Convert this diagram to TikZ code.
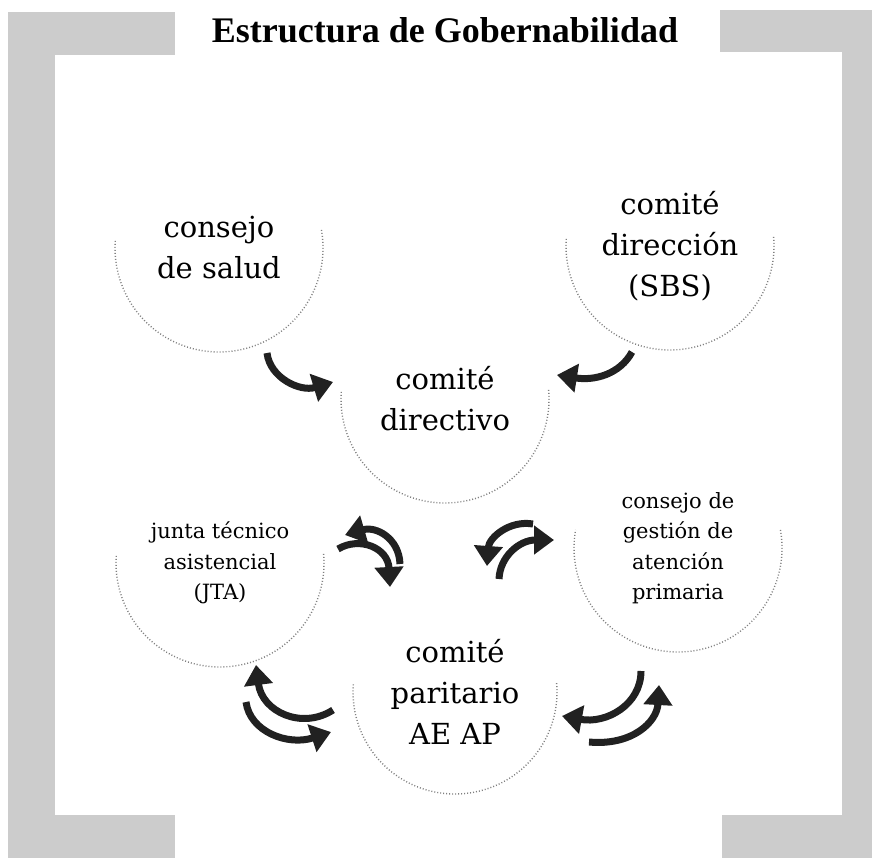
\documentclass[tikz,border=0pt]{standalone}
\usepackage{fontspec}
\setmainfont{DejaVu Serif}
\newfontfamily\titlefont{Liberation Serif}
\usetikzlibrary{arrows.meta}
\definecolor{framegray}{gray}{0.8}
\definecolor{arrgray}{gray}{0.13}
\definecolor{rimgray}{gray}{0.5}
\begin{document}
\begin{tikzpicture}[x=1pt,y=-1pt,
  bubble/.style={circle, minimum size=210pt, inner sep=0pt, align=center},
  big/.style={bubble, font=\fontsize{29}{41}\selectfont},
  small/.style={bubble, font=\fontsize{21}{30.5}\selectfont},
  rim/.style={draw=rimgray, line width=1.4pt, dash pattern=on 1pt off 2pt},
  flow/.style={draw=arrgray, line width=7pt, -{Triangle[width=28pt,length=20pt]}},
  band/.style={fill=framegray, draw=none}]
\useasboundingbox (0,0) rectangle (872,858);
% frame
\fill[band] (8,12) rectangle (55,858);
\fill[band] (842,10) rectangle (872,858);
\fill[band] (8,12) rectangle (175,55);
\fill[band] (720,10) rectangle (872,52);
\fill[band] (8,815) rectangle (175,858);
\fill[band] (722,815) rectangle (872,858);
% title
\node[font=\titlefont\bfseries\fontsize{36}{40}\selectfont, anchor=base] (title) at (445,43) {Estructura de Gobernabilidad};
% bubbles
\node[big] (salud) at (219,248) {consejo\\de salud};
\node[big] (sbs) at (670,246) {comit\'e\\direcci\'on\\(SBS)};
\node[big] (dir) at (445,399) {comit\'e\\directivo};
\node[small] (jta) at (220,563) {junta t\'ecnico\\asistencial\\(JTA)};
\node[small] (cgap) at (678,548) {consejo de\\gesti\'on de\\atenci\'on\\primaria};
\node[big] (par) at (455,692) {comit\'e\\paritario\\AE AP};
% rims (lower halves)
\draw[rim] (salud.center) ++(-10:104) arc[start angle=-10, end angle=185, radius=104];
\draw[rim] (sbs.center) ++(-5:104) arc[start angle=-5, end angle=185, radius=104];
\draw[rim] (dir.center) ++(-5:104) arc[start angle=-5, end angle=185, radius=104];
\draw[rim] (jta.center) ++(-5:104) arc[start angle=-5, end angle=185, radius=104];
\draw[rim] (cgap.center) ++(-10:104) arc[start angle=-10, end angle=190, radius=104];
\draw[rim] (par.center) ++(-5:102) arc[start angle=-5, end angle=185, radius=102];
% arrow end points
\coordinate (a1s) at (267,353); \coordinate (a1e) at (333,382);
\coordinate (a2s) at (632,352); \coordinate (a2e) at (557,375);
\coordinate (b1s) at (400,564); \coordinate (b1e) at (345,535);
\coordinate (b2s) at (338,549); \coordinate (b2e) at (390,587);
\coordinate (c1s) at (533,524); \coordinate (c1e) at (487,566);
\coordinate (c2s) at (499,579); \coordinate (c2e) at (554,540);
\coordinate (d1s) at (333,710); \coordinate (d1e) at (256,665);
\coordinate (d2s) at (246,702); \coordinate (d2e) at (331,732);
\coordinate (e1s) at (641,671); \coordinate (e1e) at (562,716);
\coordinate (e2s) at (589,742); \coordinate (e2e) at (659,685);
% arrows
\draw[flow] (a1s) .. controls (270,378) and (300,392) .. (a1e);
\draw[flow] (a2s) .. controls (620,374) and (595,381) .. (a2e);
\draw[flow] (b1s) .. controls (399,538) and (376,526) .. (b1e);
\draw[flow] (b2s) .. controls (360,536) and (388,548) .. (b2e);
\draw[flow] (c1s) .. controls (509,520) and (489,538) .. (c1e);
\draw[flow] (c2s) .. controls (500,556) and (520,540) .. (c2e);
\draw[flow] (d1s) .. controls (302,730) and (262,712) .. (d1e);
\draw[flow] (d2s) .. controls (250,732) and (288,746) .. (d2e);
\draw[flow] (e1s) .. controls (641,705) and (606,724) .. (e1e);
\draw[flow] (e2s) .. controls (632,746) and (657,722) .. (e2e);
\end{tikzpicture}
\end{document}
